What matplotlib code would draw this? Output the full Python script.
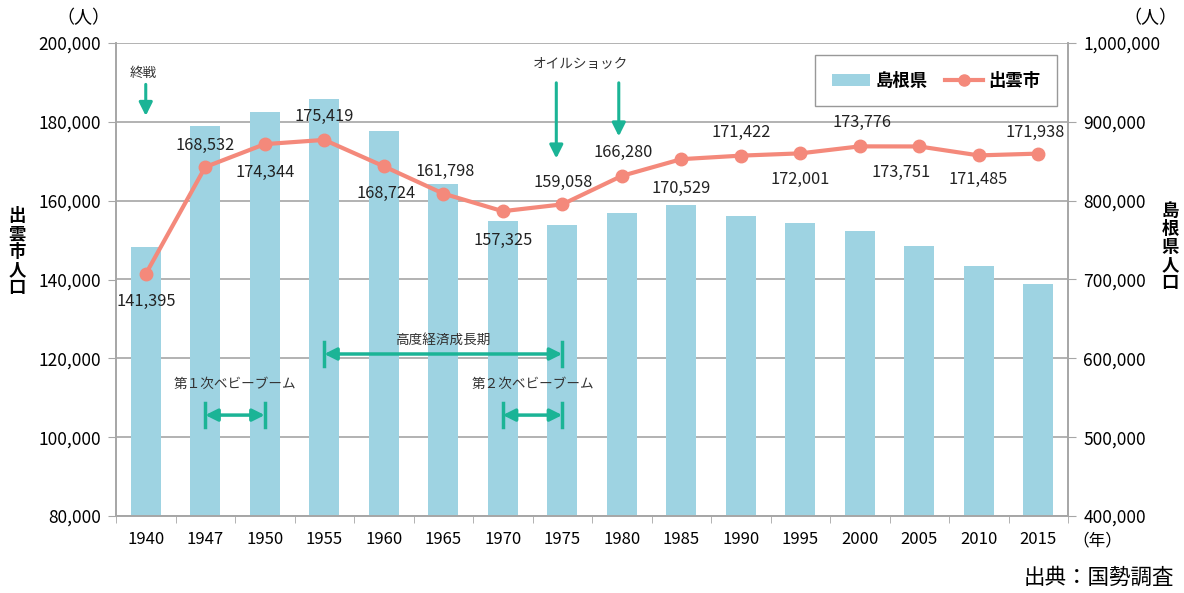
import matplotlib
matplotlib.use("Agg")
import matplotlib.pyplot as plt
import numpy as np

plt.rcParams['font.family'] = ['Noto Sans CJK JP', 'DejaVu Sans']

years = ["1940", "1947", "1950", "1955", "1960", "1965", "1970", "1975",
         "1980", "1985", "1990", "1995", "2000", "2005", "2010", "2015"]
shimane = [740940, 894267, 912551, 929066, 888886, 821620, 773575, 768886,
           784795, 794629, 781021, 771441, 761503, 742223, 717397, 694352]
izumo = [141395, 168532, 174344, 175419, 168724, 161798, 157325, 159058,
         166280, 170529, 171422, 172001, 173776, 173751, 171485, 171938]
# label offsets in pixels (dx, dy)
label_offsets = [(0, -27), (0, 22), (0, -28), (0, 23), (2, -27), (2, 22),
                 (0, -29), (1, 22), (1, 23), (0, -29), (0, 23), (0, -26),
                 (2, 24), (-18, -26), (-1, -24), (-3, 21)]

bar_color = "#9ED3E2"
line_color = "#F4897B"
teal = "#1BB496"
grid_color = "#A6A6A6"

fig = plt.figure(figsize=(11.84, 5.93), dpi=100)
ax2 = fig.add_axes([116/1184, 1-516/593, (1068-116)/1184, (516-43)/593])
ax = ax2.twinx()
ax2.yaxis.tick_right()
ax2.yaxis.set_label_position("right")
ax.yaxis.tick_left()
ax.yaxis.set_label_position("left")

x = np.arange(len(years))
ax2.bar(x, shimane, width=0.5, color=bar_color, zorder=2)
ax2.set_ylim(400000, 1000000)
ax2.set_yticks(np.arange(400000, 1000001, 100000))
ax2.set_yticklabels([f"{v:,}" for v in range(400000, 1000001, 100000)], fontsize=12.5)
ax2.grid(axis='y', color=grid_color, lw=1.2, zorder=0)
ax2.set_axisbelow(True)

ax.plot(x, izumo, color=line_color, lw=3, marker='o', ms=9, zorder=5)
ax.set_ylim(80000, 200000)
ax.set_yticks(np.arange(80000, 200001, 20000))
ax.set_yticklabels([f"{v:,}" for v in range(80000, 200001, 20000)], fontsize=12.5)
ax.set_xlim(-0.5, len(years) - 0.5)

for i, v in enumerate(izumo):
    dx, dy = label_offsets[i]
    ax.annotate(f"{v:,}", (x[i], v), xytext=(dx, dy), textcoords='offset pixels',
                ha='center', va='center', fontsize=11.8, color='#222222')

ax2.set_xticks(x)
ax2.set_xticklabels(years, fontsize=12)
ax2.set_xticks(np.arange(-0.5, len(years), 1), minor=True)
ax2.tick_params(axis='x', which='major', length=0, pad=11)
ax2.tick_params(axis='x', which='minor', length=5, color=grid_color)
ax2.tick_params(axis='y', length=6, color=grid_color, pad=5)
ax.tick_params(axis='y', length=6, color=grid_color, pad=5)

for a in (ax, ax2):
    a.spines['top'].set_visible(False)
    for s in ('left', 'right', 'bottom'):
        a.spines[s].set_color(grid_color)
        a.spines[s].set_linewidth(1.2)

# annotations
ann_fs = 9.8
arrow_kw = dict(arrowstyle='-|>', color=teal, lw=2.2, mutation_scale=20)
ax.text(-0.05, 192500, "終戦", ha='center', va='center', fontsize=ann_fs, color='#333333')
ax.annotate("", xy=(0, 180800), xytext=(0, 190200), arrowprops=arrow_kw, zorder=6)

ax.text(7.3, 194700, "オイルショック", ha='center', va='center', fontsize=ann_fs, color='#333333')
ax.annotate("", xy=(6.9, 170000), xytext=(6.9, 190600), arrowprops=arrow_kw, zorder=6)
ax.annotate("", xy=(7.95, 175600), xytext=(7.95, 190600), arrowprops=arrow_kw, zorder=6)

def span(x0, x1, y, text, ty):
    ax.annotate("", xy=(x1, y), xytext=(x0, y),
                arrowprops=dict(arrowstyle='<|-|>', color=teal, lw=2.5,
                                mutation_scale=18, shrinkA=0, shrinkB=0), zorder=6)
    h = 3000
    for xx in (x0, x1):
        ax.plot([xx, xx], [y - h, y + h], color=teal, lw=2.5, zorder=6)
    ax.text((x0 + x1) / 2, ty, text, ha='center', va='center', fontsize=ann_fs, color='#333333')

span(3.0, 7.0, 121100, "高度経済成長期", 124700)
span(1.0, 2.0, 105600, "第１次ベビーブーム", 113500)
span(6.0, 7.0, 105600, "第２次ベビーブーム", 113500)

# axis titles
fig.text(17/1184, 1-252/593, "\n".join("出雲市人口"), ha='center', va='center',
         fontsize=12.5, fontweight='bold', linespacing=1.0)
fig.text(1170/1184, 1-247/593, "\n".join("島根県人口"), ha='center', va='center',
         fontsize=12.5, fontweight='bold', linespacing=1.0)
fig.text(83/1184, 1-18/593, "（人）", ha='center', va='center', fontsize=13)
fig.text(1150/1184, 1-18/593, "（人）", ha='center', va='center', fontsize=13)
fig.text(1097/1184, 1-541/593, "（年）", ha='center', va='center', fontsize=12)
fig.text(1099/1184, 1-578/593, "出典：国勢調査", ha='center', va='center', fontsize=15.5)

# legend
from matplotlib.patches import Patch
from matplotlib.lines import Line2D
handles = [Patch(facecolor=bar_color, label="島根県"),
           Line2D([0], [0], color=line_color, lw=3, marker='o', ms=8, label="出雲市")]
leg = ax.legend(handles=handles, loc='upper right', bbox_to_anchor=(0.9935, 0.985),
                ncol=2, fontsize=12.5, frameon=True, fancybox=False,
                edgecolor='#7F7F7F', borderpad=0.95, handlelength=2.2,
                columnspacing=1.0, handletextpad=0.3, borderaxespad=0.3)
leg.get_frame().set_linewidth(1.0)
for t in leg.get_texts():
    t.set_fontweight('bold')

fig.savefig("out.png", dpi=100)
